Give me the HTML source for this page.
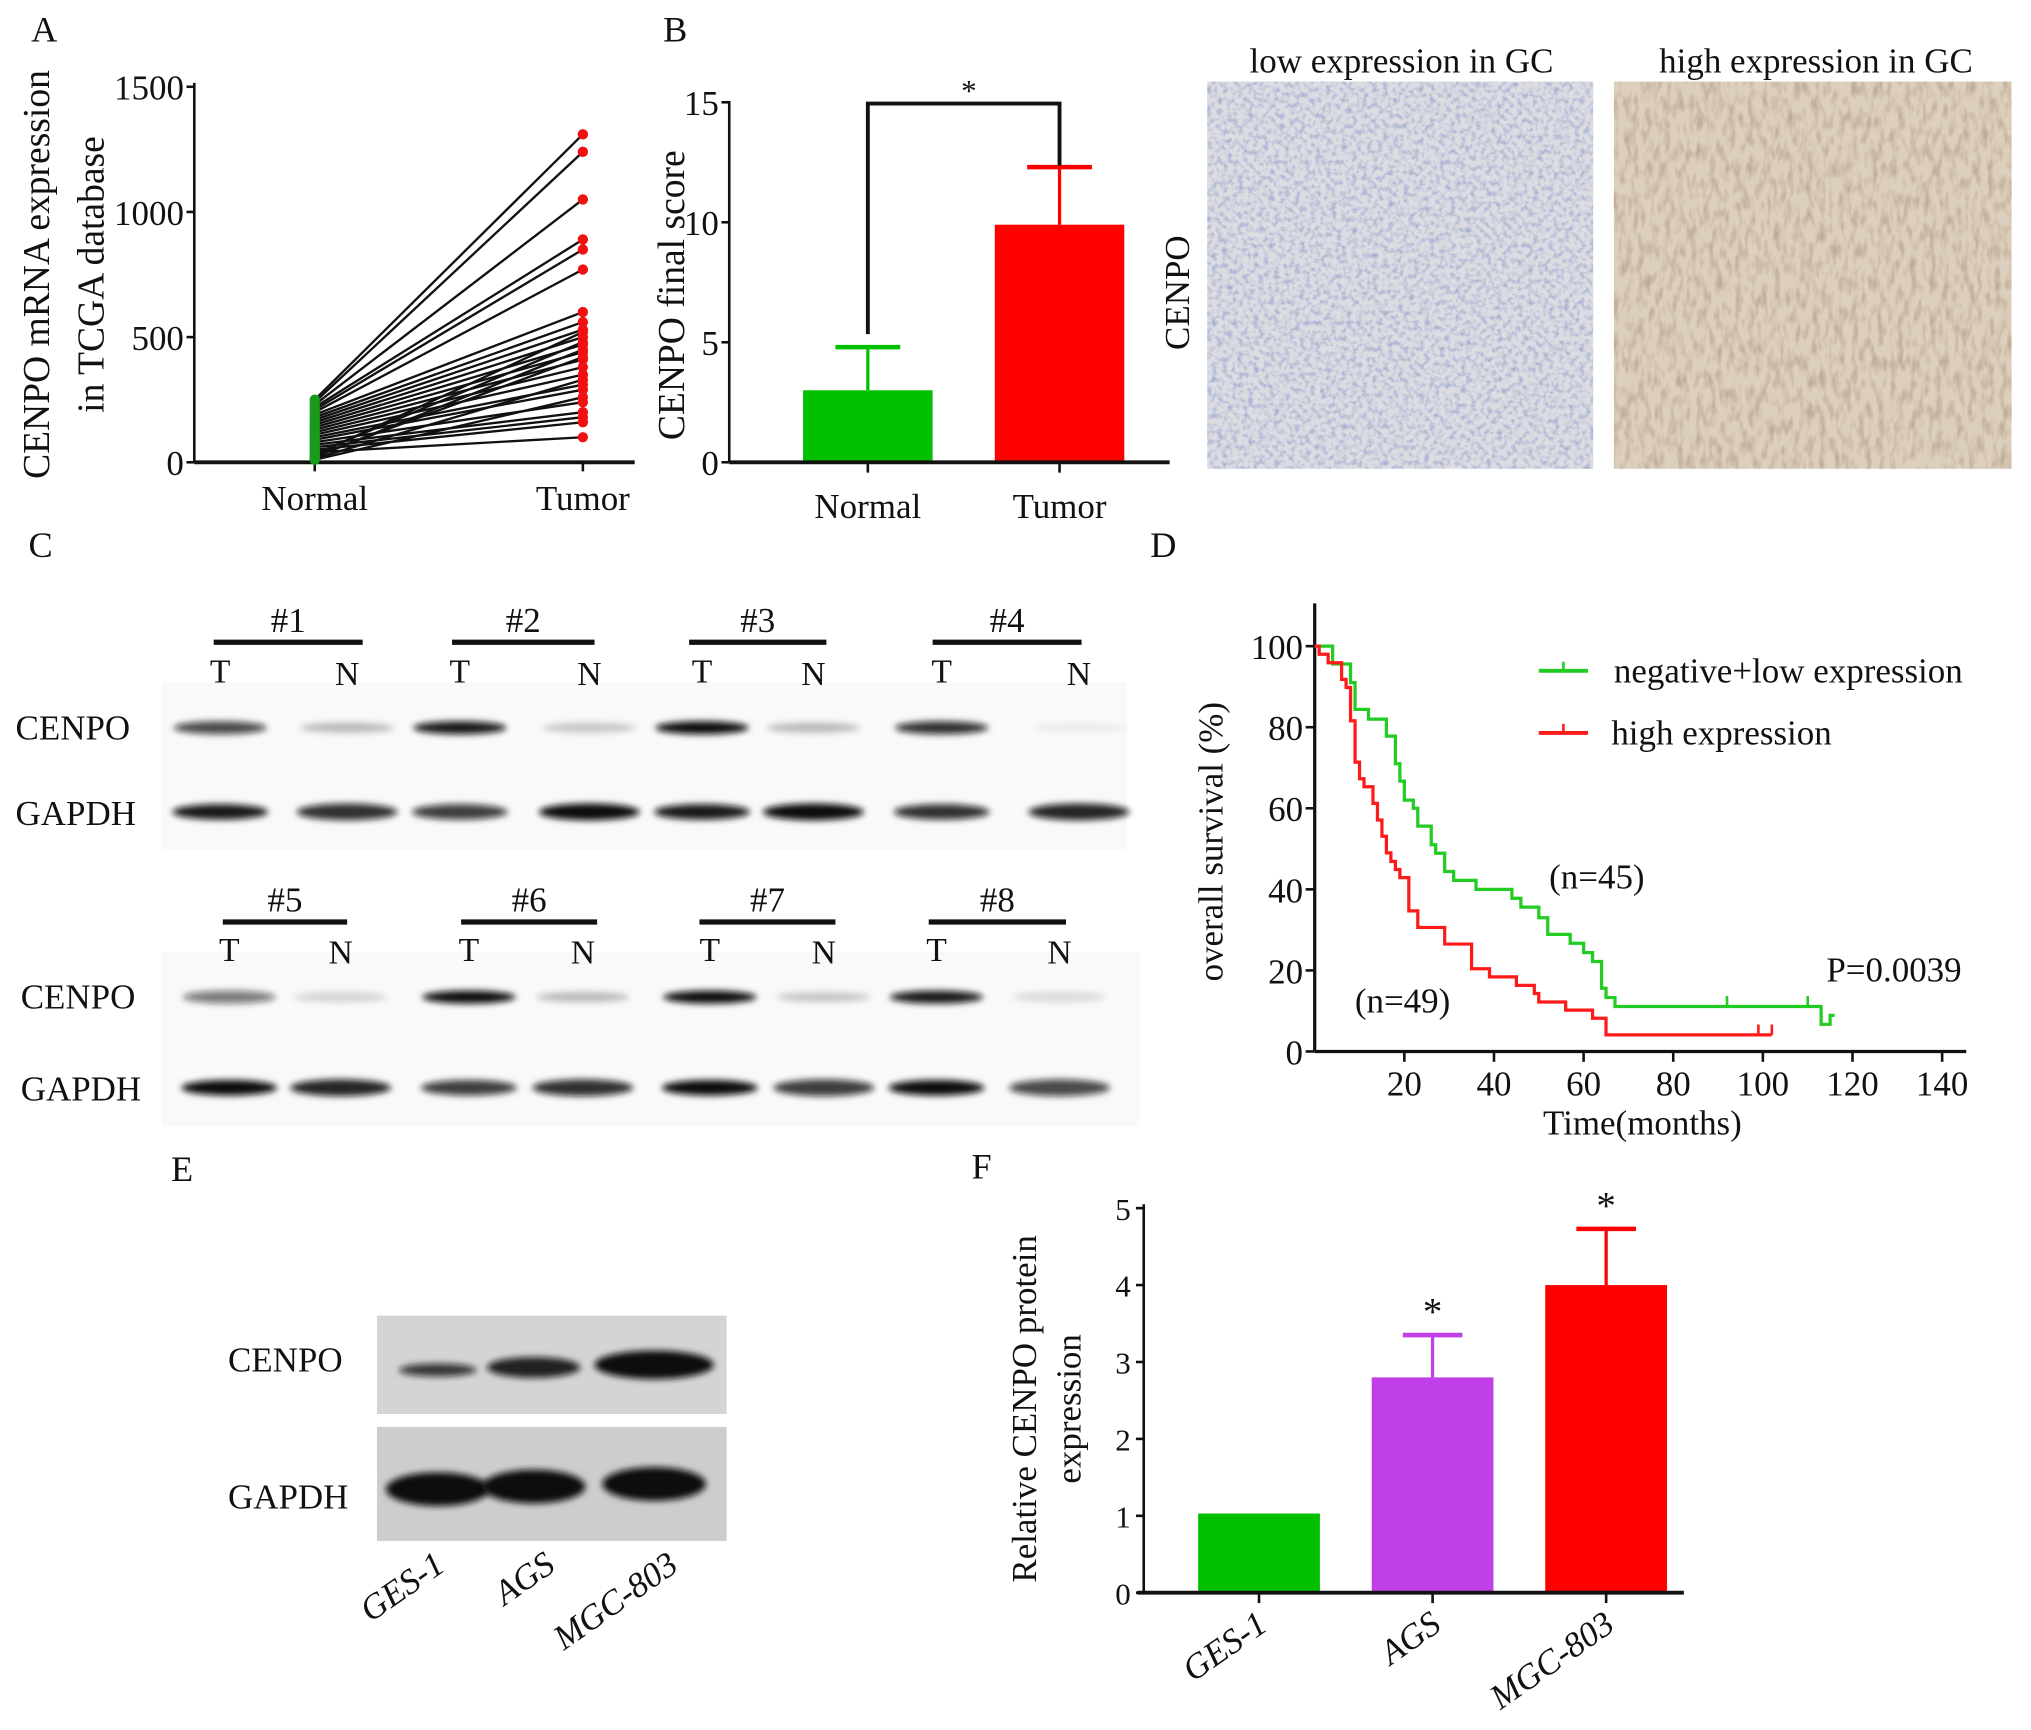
<!DOCTYPE html>
<html><head><meta charset="utf-8"><style>
html,body{margin:0;padding:0;background:#fff}
svg{display:block}
text{font-family:"Liberation Serif",serif;fill:#111}
</style></head><body>
<svg id="fig" width="2031" height="1730" viewBox="0 0 1568 1336" preserveAspectRatio="none" xmlns="http://www.w3.org/2000/svg">
<defs>
<filter id="blur" x="-20%" y="-100%" width="140%" height="300%"><feGaussianBlur stdDeviation="2.5"/></filter>
<filter id="noiseLow"><feTurbulence type="fractalNoise" baseFrequency="0.25" numOctaves="2" seed="3"/><feColorMatrix values="0 0 0 0 0.3  0 0 0 0 0.35  0 0 0 0 0.6  0 0 0 2 -0.85"/><feComposite in2="SourceGraphic" operator="in"/></filter>
<filter id="noiseHigh"><feTurbulence type="fractalNoise" baseFrequency="0.2 0.08" numOctaves="2" seed="7"/><feColorMatrix values="0 0 0 0 0.45  0 0 0 0 0.35  0 0 0 0 0.25  0 0 0 2 -0.85"/><feComposite in2="SourceGraphic" operator="in"/></filter>
</defs>
<g id="panelA"></g>
<g id="panelB"></g>
<g id="ihc">
  <text x="1082" y="56" font-size="27" text-anchor="middle">low expression in GC</text>
  <text x="1402" y="56" font-size="27" text-anchor="middle">high expression in GC</text>
  <text transform="translate(918,226) rotate(-90)" font-size="27" text-anchor="middle">CENPO</text>
  <rect x="932" y="63" width="298" height="299" fill="#dcdde2"/>
  <rect x="932" y="63" width="298" height="299" fill="#fff" filter="url(#noiseLow)" opacity="0.9"/>
  <rect x="1246" y="63" width="307" height="299" fill="#dccfbd"/>
  <rect x="1246" y="63" width="307" height="299" fill="#fff" filter="url(#noiseHigh)" opacity="0.9"/>
</g>
<g id="panelC"></g>
<g id="panelD"></g>
<g id="panelE"></g>
<g id="panelF"></g>
</svg>
<script>
const NS="http://www.w3.org/2000/svg";
function mk(parent,tag,attrs,txt){const e=document.createElementNS(NS,tag);for(const k in attrs)e.setAttribute(k,attrs[k]);if(txt!==undefined)e.textContent=txt;parent.appendChild(e);return e;}

// ---------- Panel A data ----------
const aNormal=[250,240,230,220,210,200,190,180,170,160,150,140,130,120,110,100,90,80,70,60,50,40,30,20,15,10,25,35];
const aTumor=[1310,1240,1050,890,850,770,600,560,530,500,470,440,410,380,350,310,290,240,200,180,160,100,520,450,330,260,420,480];
const aTicks=[0,500,1000,1500];
const aCats=["Normal","Tumor"];

// ---------- Panel B data ----------
const bCats=["Normal","Tumor"];
const bMeans=[3.0,9.9];
const bErr=[4.8,12.3];
const bTicks=[0,5,10,15];

// ---------- Panel D data ----------
const greenT=[0,4,8,9,12,16,18,19,20,22,23,26,27,29,31,36,44,46,50,52,57,60,62,64,65,67,113,115];
const greenS=[100,95.6,91,84.4,82,77.8,71,66.7,62,60,55.6,51,48.9,44.4,42.2,40,37.8,35.6,33,28.9,26.7,24.4,22.2,15.6,13.3,11.1,6.7,8.9];
const greenEnd=116;
const greenCensor=[92,110];
const redT=[0,1,3,6,7,8,9,10,11,13,14,15,16,17,18,19,21,23,29,35,39,45,49,50,56,62,65];
const redS=[100,98,95.9,91.8,89.8,81.6,71.4,67.3,65.3,61.2,57.1,53.1,49,46.9,44.9,42.9,34.7,30.6,26.5,20.4,18.4,16.3,14.3,12.2,10.2,8.2,6.1];
const redS2=[4.1];
const redEnd=102;
const redCensor=[99,102];
const dXTicks=[20,40,60,80,100,120,140];
const dYTicks=[0,20,40,60,80,100];

// ---------- Panel F data ----------
const fCats=["GES-1","AGS","MGC-803"];
const fMeans=[1.03,2.8,4.0];
const fErr=[null,3.35,4.73];
const fTicks=[0,1,2,3,4,5];

// ---------- Blot data (band intensities 0-1) ----------
const blotCenpo1=[0.75,0.25,0.95,0.2,1,0.25,0.85,0.05];
const blotGapdh1=[0.95,0.85,0.8,1,0.95,1,0.85,0.9];
const blotCenpo2=[0.55,0.15,1,0.25,1,0.2,0.95,0.12];
const blotGapdh2=[1,0.9,0.8,0.85,1,0.8,1,0.75];
const blotE_cenpo=[0.8,0.9,1];
const blotE_gapdh=[1,1,1];

// ===== Panel A =====
(function(){
 const g=document.getElementById('panelA');
 const y=v=>357-(v/1500)*290;
 const xs=[243,450];
 mk(g,'text',{x:24,y:32,'font-size':28,},'A');
 mk(g,'line',{x1:150,y1:64,x2:150,y2:357,stroke:'#111','stroke-width':2});
 mk(g,'line',{x1:150,y1:357,x2:490,y2:357,stroke:'#111','stroke-width':3});
 aTicks.forEach(t=>{
  mk(g,'line',{x1:144,y1:y(t),x2:150,y2:y(t),stroke:'#111','stroke-width':2});
  const tx=mk(g,'text',{x:142,y:y(t)+10,'font-size':27,'text-anchor':'end'},t);
  
  
 });
 aCats.forEach((c,i)=>{
  mk(g,'line',{x1:xs[i],y1:357,x2:xs[i],y2:364,stroke:'#111','stroke-width':2});
  const tx=mk(g,'text',{x:xs[i],y:394,'font-size':27,'text-anchor':'middle'},c);
  
  
 });
 const t1=mk(g,'text',{transform:'translate(38,212) rotate(-90)','font-size':29,'text-anchor':'middle'},'CENPO mRNA expression');
 
 const t2=mk(g,'text',{transform:'translate(80,212) rotate(-90)','font-size':29,'text-anchor':'middle'},'in TCGA database');
 
 aNormal.forEach((n,i)=>{
  const l=mk(g,'line',{x1:xs[0],y1:y(n),x2:xs[1],y2:y(aTumor[i]),stroke:'#111','stroke-width':1.8});
  
 });
 aNormal.forEach(n=>{const c=mk(g,'circle',{cx:xs[0],cy:y(n),r:4,fill:'#1a9a1a'});});
 aTumor.forEach(n=>{const c=mk(g,'circle',{cx:xs[1],cy:y(n),r:4,fill:'#f01010'});});
})();

// ===== Panel B =====
(function(){
 const g=document.getElementById('panelB');
 const y=v=>357-(v/15)*278;
 const xs=[670,818], cols=['#00c000','#ff0000'];
 mk(g,'text',{x:512,y:32,'font-size':28,},'B');
 bCats.forEach((c,i)=>{
  const r=mk(g,'rect',{x:xs[i]-50,y:y(bMeans[i]),width:100,height:357-y(bMeans[i]),fill:cols[i]});
  
  mk(g,'line',{x1:xs[i],y1:y(bMeans[i]),x2:xs[i],y2:y(bErr[i]),stroke:cols[i],'stroke-width':2.5});
  mk(g,'line',{x1:xs[i]-25,y1:y(bErr[i]),x2:xs[i]+25,y2:y(bErr[i]),stroke:cols[i],'stroke-width':3.5});
  mk(g,'line',{x1:xs[i],y1:357,x2:xs[i],y2:365,stroke:'#111','stroke-width':2});
  const tx=mk(g,'text',{x:xs[i],y:400,'font-size':27,'text-anchor':'middle'},c);
  
 });
 mk(g,'line',{x1:563,y1:78,x2:563,y2:357,stroke:'#111','stroke-width':2});
 mk(g,'line',{x1:563,y1:357,x2:903,y2:357,stroke:'#111','stroke-width':3});
 bTicks.forEach(t=>{
  mk(g,'line',{x1:557,y1:y(t),x2:563,y2:y(t),stroke:'#111','stroke-width':2});
  const tx=mk(g,'text',{x:555,y:y(t)+10,'font-size':27,'text-anchor':'end'},t);
  
 });
 const yt=mk(g,'text',{transform:'translate(528,228) rotate(-90)','font-size':29,'text-anchor':'middle'},'CENPO final score');
 
 mk(g,'path',{d:`M${xs[0]} 258 V80 H${xs[1]} V128`,fill:'none',stroke:'#111','stroke-width':3,});
 mk(g,'text',{x:748,y:78,'font-size':24,'text-anchor':'middle',},'*');
})();

// ===== Panel C (blots) =====
(function(){
 const g=document.getElementById('panelC');
 mk(g,'text',{x:22,y:430,'font-size':28,},'C');
 function band(cx,cy,w,h,intens){
  const b=mk(g,'ellipse',{cx:cx,cy:cy,rx:w/2,ry:h/2,fill:'#111','fill-opacity':intens,filter:'url(#blur)'});
  
 }
 function row(top,lines,labelsY,T,N,cenpoY,gapdhY,cen,gap,bgX,bgW,lblX){
  mk(g,'rect',{x:bgX,y:cenpoY-35,width:bgW,height:gapdhY-cenpoY+65,fill:'#f9f9f9',});
  lines.forEach((l,i)=>{
   mk(g,'line',{x1:l[0],y1:top,x2:l[1],y2:top,stroke:'#111','stroke-width':4});
   const h=mk(g,'text',{x:(l[0]+l[1])/2,y:top-8,'font-size':27,'text-anchor':'middle'},'#'+l[2]);
   
   const a=mk(g,'text',{x:T[i],y:labelsY,'font-size':26,'text-anchor':'middle'},'T');
   
   const b=mk(g,'text',{x:N[i],y:labelsY+2,'font-size':26,'text-anchor':'middle'},'N');
   
   band(T[i],cenpoY,72,10,cen[i*2]);band(N[i],cenpoY,72,8,cen[i*2+1]);
   band(T[i],gapdhY,74,12,gap[i*2]);band(N[i],gapdhY,78,13,gap[i*2+1]);
  });
  mk(g,'text',{x:lblX,y:cenpoY+9,'font-size':27,},'CENPO');
  mk(g,'text',{x:lblX,y:gapdhY+10,'font-size':27,},'GAPDH');
 }
 row(496,[[165,280,1],[349,459,2],[532,638,3],[720,835,4]],527,[170,355,542,727],[268,455,628,833],562,627,blotCenpo1,blotGapdh1,125,745,12);
 row(712,[[172,268,5],[356,461,6],[540,645,7],[717,823,8]],742,[177,362,548,723],[263,450,636,818],770,840,blotCenpo2,blotGapdh2,125,755,16);
})();

// ===== Panel D =====
(function(){
 const g=document.getElementById('panelD');
 const x=t=>1015+t*3.46, y=s=>812-s*3.13;
 mk(g,'text',{x:888,y:430,'font-size':28,},'D');
 mk(g,'line',{x1:1015,y1:466,x2:1015,y2:812,stroke:'#111','stroke-width':2.5});
 mk(g,'line',{x1:1015,y1:812,x2:1518,y2:812,stroke:'#111','stroke-width':2.5});
 dXTicks.forEach(t=>{
  mk(g,'line',{x1:x(t),y1:812,x2:x(t),y2:820,stroke:'#111','stroke-width':2});
  const tx=mk(g,'text',{x:x(t),y:846,'font-size':27,'text-anchor':'middle'},t);
  
 });
 dYTicks.forEach(t=>{
  mk(g,'line',{x1:1008,y1:y(t),x2:1015,y2:y(t),stroke:'#111','stroke-width':2});
  const tx=mk(g,'text',{x:1006,y:y(t)+10,'font-size':27,'text-anchor':'end'},t);
  
 });
 mk(g,'text',{x:1268,y:876,'font-size':27,'text-anchor':'middle',},'Time(months)');
 mk(g,'text',{transform:'translate(944,650) rotate(-90)','font-size':27,'text-anchor':'middle',},'overall survival (%)');
 function steps(T,S,end){let d=`M${x(T[0])} ${y(S[0])}`;for(let i=1;i<T.length;i++){d+=` H${x(T[i])} V${y(S[i])}`;}d+=` H${x(end)}`;return d;}
 const gp=mk(g,'path',{d:steps(greenT,greenS,greenEnd),fill:'none',stroke:'#22cc22','stroke-width':2.5});
 
 const rT=redT.concat([redEnd-37]), rS=redS.concat(redS2);
 const rp=mk(g,'path',{d:steps(rT,rS,redEnd),fill:'none',stroke:'#ff1a1a','stroke-width':2.5});
 
 greenCensor.forEach(t=>{const c=mk(g,'line',{x1:x(t),y1:y(11.1),x2:x(t),y2:y(11.1)-8,stroke:'#22cc22','stroke-width':2});});
 redCensor.forEach(t=>{const c=mk(g,'line',{x1:x(t),y1:y(4.1),x2:x(t),y2:y(4.1)-8,stroke:'#ff1a1a','stroke-width':2});});
 mk(g,'line',{x1:1188,y1:518,x2:1226,y2:518,stroke:'#22cc22','stroke-width':3,});
 mk(g,'line',{x1:1207,y1:518,x2:1207,y2:511,stroke:'#22cc22','stroke-width':2});
 mk(g,'text',{x:1246,y:527,'font-size':27,},'negative+low expression');
 mk(g,'line',{x1:1188,y1:566,x2:1226,y2:566,stroke:'#ff1a1a','stroke-width':3,});
 mk(g,'line',{x1:1207,y1:566,x2:1207,y2:559,stroke:'#ff1a1a','stroke-width':2});
 mk(g,'text',{x:1244,y:575,'font-size':27,},'high expression');
 mk(g,'text',{x:1196,y:686,'font-size':27,},'(n=45)');
 mk(g,'text',{x:1046,y:782,'font-size':27,},'(n=49)');
 mk(g,'text',{x:1410,y:758,'font-size':27,},'P=0.0039');
})();

// ===== Panel E =====
(function(){
 const g=document.getElementById('panelE');
 mk(g,'text',{x:132,y:912,'font-size':28,},'E');
 mk(g,'rect',{x:291,y:1016,width:270,height:76,fill:'#d4d4d4',});
 mk(g,'rect',{x:291,y:1102,width:270,height:88,fill:'#cdcdcd',});
 const xs=[338,412,505], wc=[60,72,92], hc=[10,16,22];
 blotE_cenpo.forEach((v,i)=>{const b=mk(g,'ellipse',{cx:xs[i],cy:1058-i*2,rx:wc[i]/2,ry:hc[i]/2,fill:'#111','fill-opacity':v,filter:'url(#blur)'});});
 blotE_gapdh.forEach((v,i)=>{const b=mk(g,'ellipse',{cx:xs[i],cy:1150-i*2,rx:40,ry:13,fill:'#111','fill-opacity':v,filter:'url(#blur)'});});
 mk(g,'text',{x:176,y:1059,'font-size':27,},'CENPO');
 mk(g,'text',{x:176,y:1165,'font-size':27,},'GAPDH');
 const lx=[345,430,525];
 fCats.forEach((c,i)=>{const t=mk(g,'text',{transform:`translate(${lx[i]},${1212}) rotate(-35)`,'font-size':27,'font-style':'italic','text-anchor':'end'},c);});
})();

// ===== Panel F =====
(function(){
 const g=document.getElementById('panelF');
 const y=v=>1230-(v/5)*297;
 const xs=[972,1106,1240], cols=['#00c000','#c040e8','#ff0000'];
 mk(g,'text',{x:750,y:910,'font-size':28,},'F');
 fCats.forEach((c,i)=>{
  const r=mk(g,'rect',{x:xs[i]-47,y:y(fMeans[i]),width:94,height:1230-y(fMeans[i]),fill:cols[i]});
  
  if(fErr[i]!==null){
   mk(g,'line',{x1:xs[i],y1:y(fMeans[i]),x2:xs[i],y2:y(fErr[i]),stroke:cols[i],'stroke-width':2.5});
   mk(g,'line',{x1:xs[i]-23,y1:y(fErr[i]),x2:xs[i]+23,y2:y(fErr[i]),stroke:cols[i],'stroke-width':3.5});
   const s=mk(g,'text',{x:xs[i],y:y(fErr[i])-8,'font-size':30,'text-anchor':'middle'},'*');
   
  }
  mk(g,'line',{x1:xs[i],y1:1230,x2:xs[i],y2:1238,stroke:'#111','stroke-width':2});
  const t=mk(g,'text',{transform:`translate(${xs[i]+8},${1258}) rotate(-35)`,'font-size':27,'font-style':'italic','text-anchor':'end'},c);
  
 });
 mk(g,'line',{x1:883,y1:930,x2:883,y2:1230,stroke:'#111','stroke-width':2});
 mk(g,'line',{x1:878,y1:1230,x2:1300,y2:1230,stroke:'#111','stroke-width':3});
 fTicks.forEach(t=>{
  mk(g,'line',{x1:877,y1:y(t),x2:883,y2:y(t),stroke:'#111','stroke-width':2});
  const tx=mk(g,'text',{x:873,y:y(t)+9,'font-size':24,'text-anchor':'end'},t);
  
 });
 mk(g,'text',{transform:'translate(800,1088) rotate(-90)','font-size':27,'text-anchor':'middle',},'Relative CENPO protein');
 mk(g,'text',{transform:'translate(834,1088) rotate(-90)','font-size':27,'text-anchor':'middle',},'expression');
})();
</script>
</body></html>
